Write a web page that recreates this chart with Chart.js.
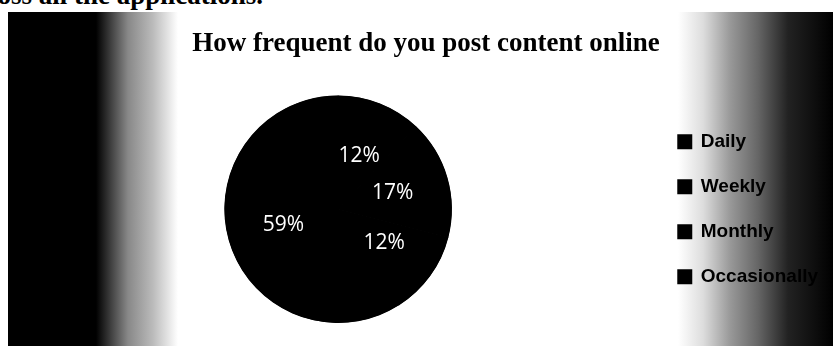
<!DOCTYPE html>
<html>
<head>
<meta charset="utf-8">
<style>
  html, body { margin: 0; padding: 0; background: #fff; overflow: hidden; }
  body { width: 833px; height: 346px; position: relative; }
  .lead {
    position: absolute; right: 570px; top: -18px;
    font: bold 27px/27px "Liberation Serif", serif; color: #000; white-space: nowrap;
  }
  .frame {
    position: absolute; left: 8px; top: 12px; width: 825px; height: 334px;
    background: linear-gradient(90deg, #000 0px, #000 88px, #333 100px, #888 120px, #bbb 145px, #fff 170px,
                #fff 670px, #ddd 695px, #999 722px, #666 750px, #222 780px, #000 825px);
  }
</style>
</head>
<body>
<div class="lead">across all the applications.</div>
<div class="frame"><canvas id="postChart"></canvas></div>

<script src="https://cdn.jsdelivr.net/npm/chart.js"></script>
<script>
  const categories = ['Daily', 'Weekly', 'Monthly', 'Occasionally'];
  const shares = [12, 17, 12, 59];
  const chartTitle = 'How frequent do you post content online';

  // white percentage labels inside each slice
  const sliceLabels = {
    id: 'sliceLabels',
    afterDatasetsDraw(chart) {
      const ctx = chart.ctx;
      const meta = chart.getDatasetMeta(0);
      ctx.save();
      ctx.fillStyle = '#fff';
      ctx.font = '21px "Open Sans", sans-serif';
      ctx.textAlign = 'center';
      ctx.textBaseline = 'middle';
      meta.data.forEach((arc, i) => {
        const p = arc.tooltipPosition();
        ctx.fillText(shares[i] + '%', p.x, p.y);
      });
      ctx.restore();
    }
  };

  new Chart(document.getElementById('postChart'), {
    type: 'pie',
    data: {
      labels: categories,
      datasets: [{
        data: shares,
        backgroundColor: '#000',
        borderColor: '#000',
        borderWidth: 2,
        borderAlign: 'inner'
      }]
    },
    options: {
      responsive: true,
      maintainAspectRatio: false,
      animation: false,
      events: [],
      layout: { padding: { top: 0, right: 5, bottom: 23, left: 16 } },
      plugins: {
        title: {
          display: true,
          text: chartTitle,
          color: '#000',
          font: { family: '"Liberation Serif", serif', size: 27, weight: 'bold' },
          padding: { top: 16, bottom: 35 }
        },
        legend: {
          position: 'right',
          fullSize: false,
          labels: {
            boxWidth: 13,
            boxHeight: 13,
            padding: 26,
            color: '#000',
            font: { family: '"Liberation Sans", sans-serif', size: 19, weight: 'bold' }
          }
        },
        tooltip: { enabled: false }
      }
    },
    plugins: [sliceLabels]
  });
</script>
</body>
</html>
